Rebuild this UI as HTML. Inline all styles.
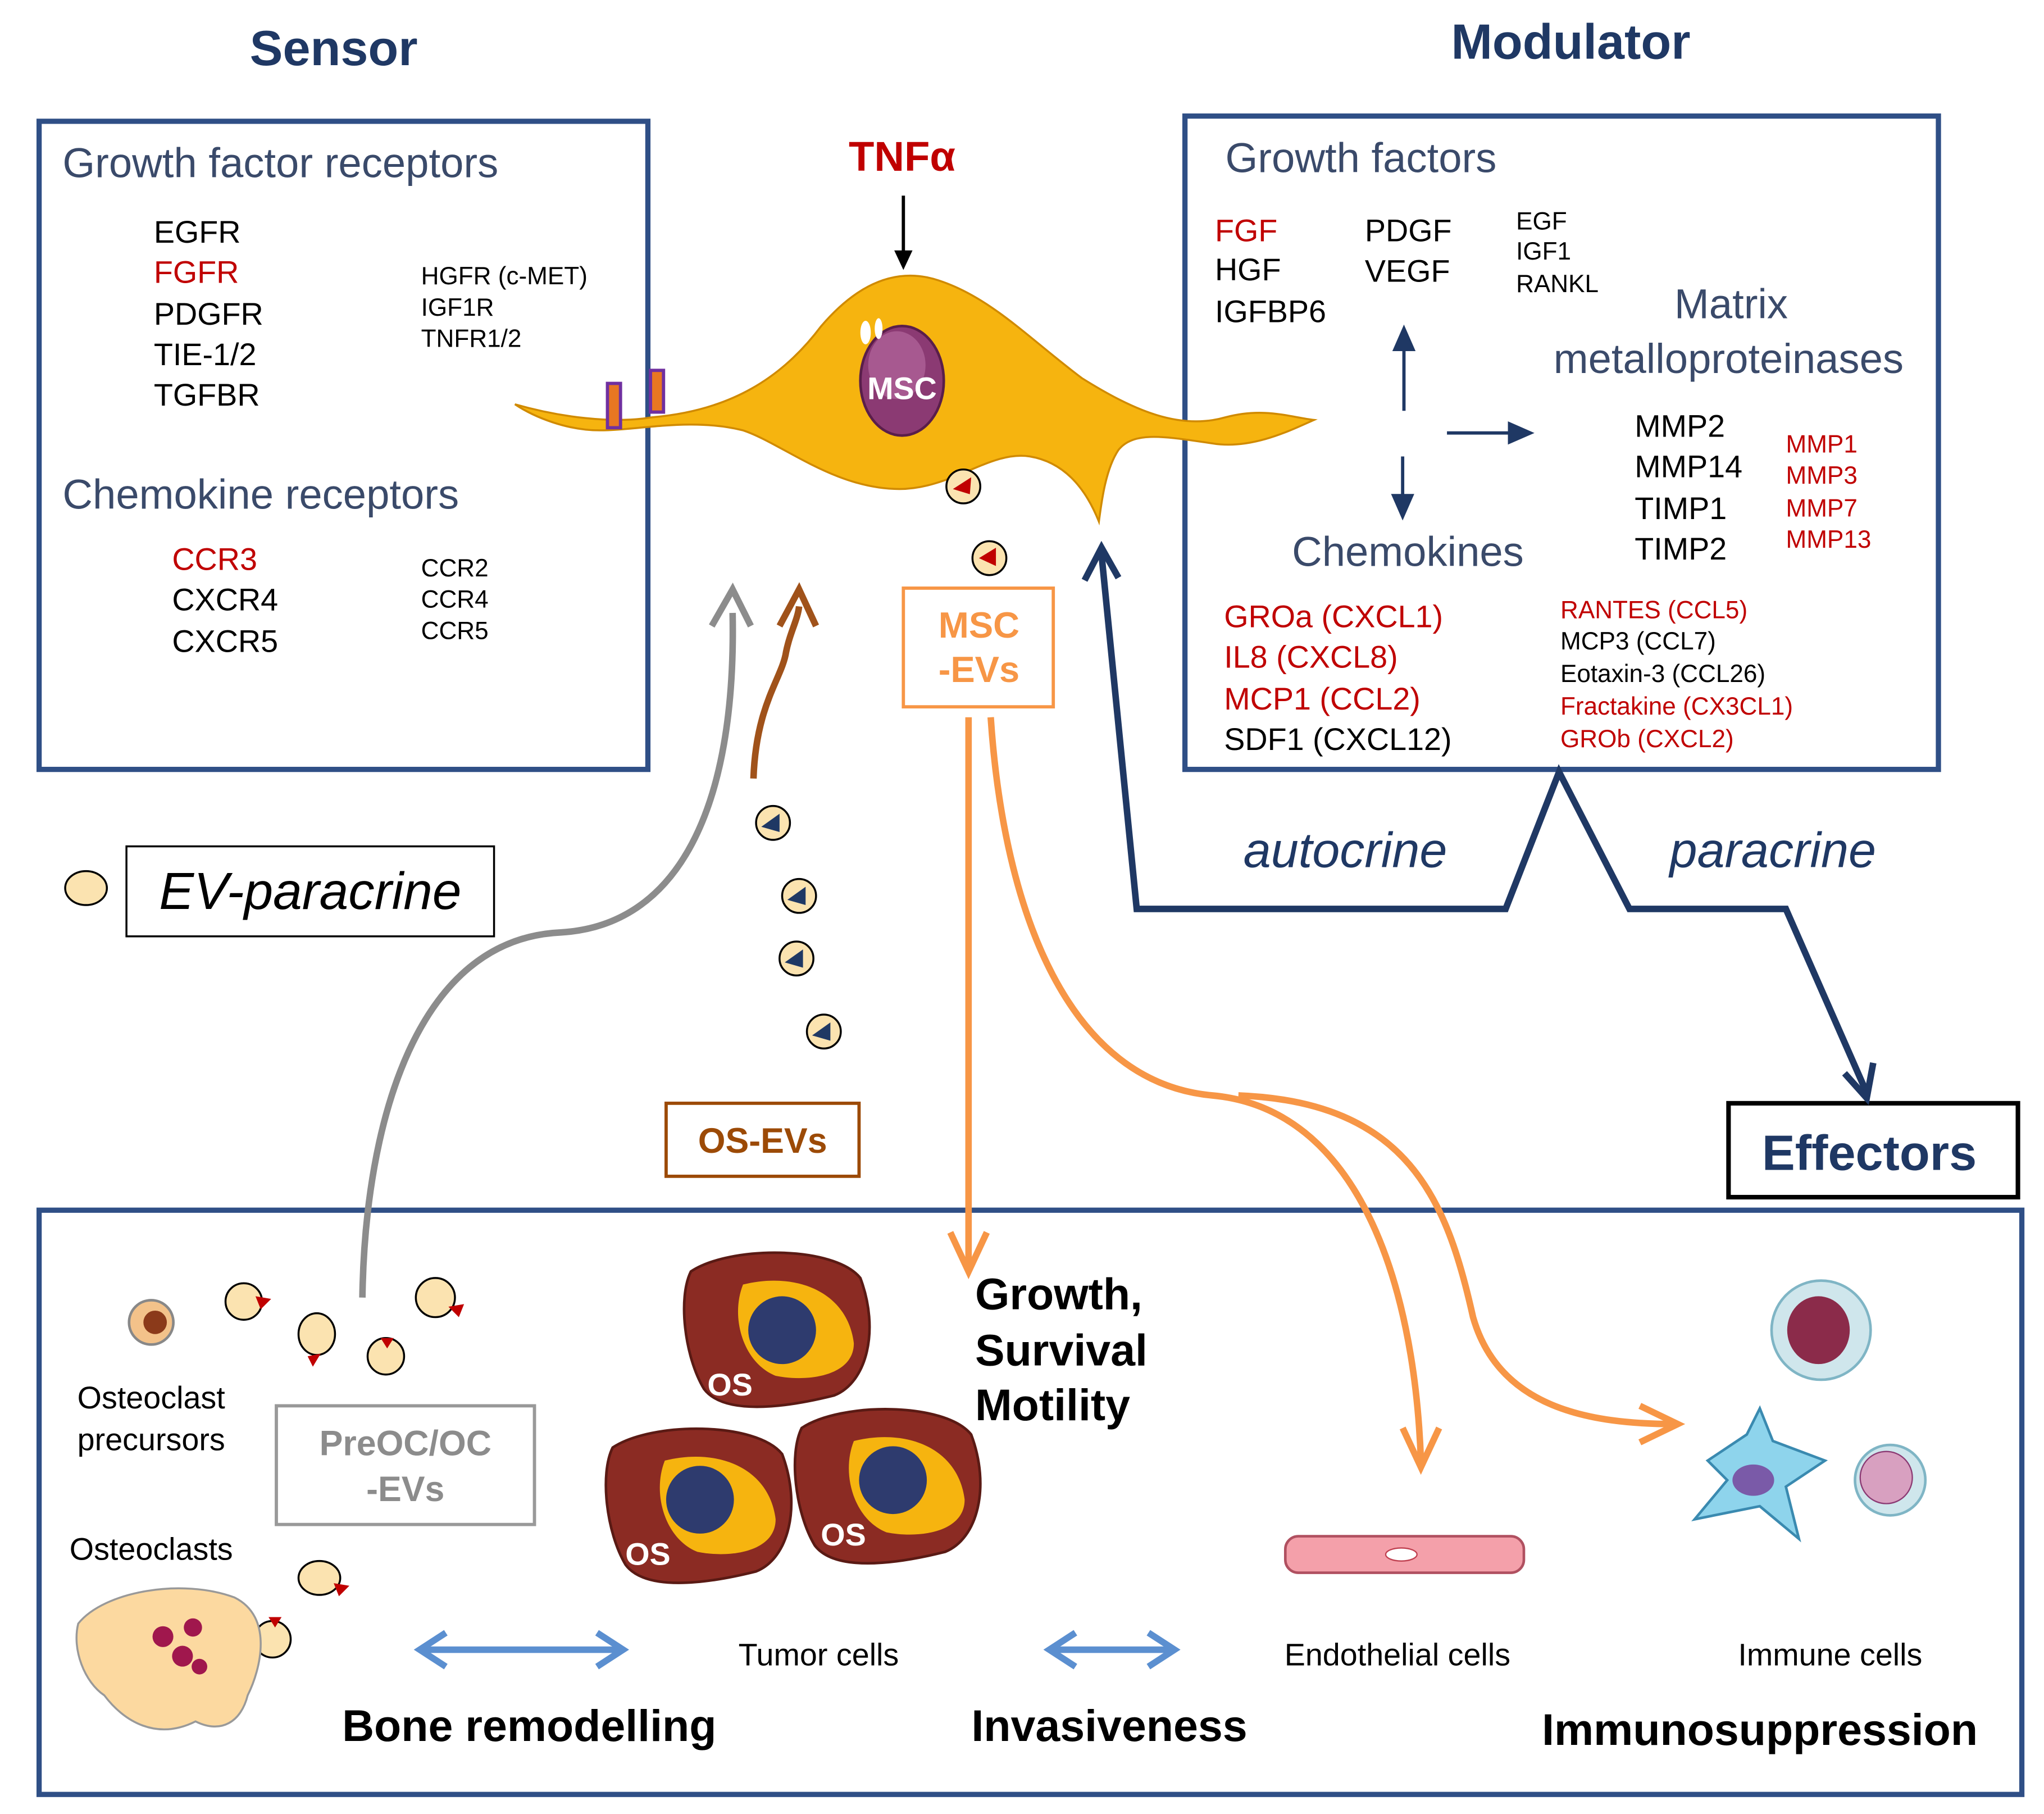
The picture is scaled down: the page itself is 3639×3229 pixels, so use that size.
<!DOCTYPE html>
<html><head><meta charset="utf-8">
<style>
html,body{margin:0;padding:0;background:#fff;}
svg{display:block;}
text{font-family:"Liberation Sans",Arial,sans-serif;}
</style></head>
<body>
<svg width="3639" height="3229" viewBox="0 0 1568 1391" preserveAspectRatio="none" xmlns="http://www.w3.org/2000/svg">
<rect width="1568" height="1391" fill="#fff"/>

<text x="256" y="50" font-size="38" font-weight="bold" fill="#1f3864" text-anchor="middle">Sensor</text>
<text x="1205" y="45" font-size="38" font-weight="bold" fill="#1f3864" text-anchor="middle">Modulator</text>

<rect x="30" y="93" width="467" height="497" fill="none" stroke="#2f4f86" stroke-width="4"/>
<rect x="909" y="89" width="578" height="501" fill="none" stroke="#2f4f86" stroke-width="4"/>
<rect x="30" y="928" width="1521" height="448" fill="none" stroke="#2f4f86" stroke-width="4"/>
<rect x="1326" y="846" width="222" height="72" fill="none" stroke="#000" stroke-width="3.5"/>
<text x="1434" y="897" font-size="38" font-weight="bold" fill="#1f3864" text-anchor="middle">Effectors</text>
<rect x="97" y="649" width="282" height="69" fill="none" stroke="#000" stroke-width="1.5"/>
<text x="238" y="697" font-size="40" font-style="italic" fill="#000" text-anchor="middle">EV-paracrine</text>
<ellipse cx="66" cy="681" rx="16" ry="13" fill="#fbe3b0" stroke="#000" stroke-width="1.5"/>

<text x="48" y="136" font-size="32" fill="#3a4a6a">Growth factor receptors</text>
<g font-size="24" fill="#000">
<text x="118" y="186">EGFR</text>
<text x="118" y="217" fill="#c00000">FGFR</text>
<text x="118" y="249">PDGFR</text>
<text x="118" y="280">TIE-1/2</text>
<text x="118" y="311">TGFBR</text>
</g>
<g font-size="19" fill="#000">
<text x="323" y="218">HGFR (c-MET)</text>
<text x="323" y="242">IGF1R</text>
<text x="323" y="266">TNFR1/2</text>
</g>
<text x="48" y="390" font-size="32" fill="#3a4a6a">Chemokine receptors</text>
<g font-size="24" fill="#000">
<text x="132" y="437" fill="#c00000">CCR3</text>
<text x="132" y="468">CXCR4</text>
<text x="132" y="500">CXCR5</text>
</g>
<g font-size="19" fill="#000">
<text x="323" y="442">CCR2</text>
<text x="323" y="466">CCR4</text>
<text x="323" y="490">CCR5</text>
</g>

<text x="940" y="132" font-size="32" fill="#3a4a6a">Growth factors</text>
<g font-size="24" fill="#000">
<text x="932" y="185" fill="#c00000">FGF</text>
<text x="932" y="215">HGF</text>
<text x="932" y="247">IGFBP6</text>
<text x="1047" y="185">PDGF</text>
<text x="1047" y="216">VEGF</text>
</g>
<g font-size="19" fill="#000">
<text x="1163" y="176">EGF</text>
<text x="1163" y="199">IGF1</text>
<text x="1163" y="224">RANKL</text>
</g>
<text x="1328" y="244" font-size="32" fill="#3a4a6a" text-anchor="middle">Matrix</text>
<text x="1326" y="286" font-size="32" fill="#3a4a6a" text-anchor="middle">metalloproteinases</text>
<g font-size="24" fill="#000">
<text x="1254" y="335">MMP2</text>
<text x="1254" y="366">MMP14</text>
<text x="1254" y="398">TIMP1</text>
<text x="1254" y="429">TIMP2</text>
</g>
<g font-size="19" fill="#c00000">
<text x="1370" y="347">MMP1</text>
<text x="1370" y="371">MMP3</text>
<text x="1370" y="396">MMP7</text>
<text x="1370" y="420">MMP13</text>
</g>
<text x="1080" y="434" font-size="32" fill="#3a4a6a" text-anchor="middle">Chemokines</text>
<g font-size="24">
<text x="939" y="481" fill="#c00000">GROa (CXCL1)</text>
<text x="939" y="512" fill="#c00000">IL8 (CXCL8)</text>
<text x="939" y="544" fill="#c00000">MCP1 (CCL2)</text>
<text x="939" y="575" fill="#000">SDF1 (CXCL12)</text>
</g>
<g font-size="19">
<text x="1197" y="474" fill="#c00000">RANTES (CCL5)</text>
<text x="1197" y="498" fill="#000">MCP3 (CCL7)</text>
<text x="1197" y="523" fill="#000">Eotaxin-3 (CCL26)</text>
<text x="1197" y="548" fill="#c00000">Fractakine (CX3CL1)</text>
<text x="1197" y="573" fill="#c00000">GROb (CXCL2)</text>
</g>
<g stroke="#1f3864" stroke-width="2.5" fill="#1f3864">
<line x1="1077" y1="315" x2="1077" y2="262"/><path d="M1070,268 L1077,252 L1084,268Z"/>
<line x1="1076" y1="350" x2="1076" y2="385"/><path d="M1069,380 L1076,396 L1083,380Z"/>
<line x1="1110" y1="332" x2="1162" y2="332"/><path d="M1158,325 L1174,332 L1158,339Z"/>
</g>

<path d="M395,310 C430,320 470,325 500,320 C560,315 600,290 630,250 C660,215 690,205 720,215 C760,228 790,260 830,290 C870,315 905,330 940,320 C970,312 990,320 1008,322 C990,330 960,345 930,340 C895,335 870,330 858,345 C848,360 845,385 843,400 C835,380 820,355 790,350 C760,345 730,375 690,375 C640,375 600,340 570,330 C530,320 490,330 460,330 C435,330 410,320 395,310Z" fill="#f6b40f" stroke="#d08a00" stroke-width="1.5"/>
<ellipse cx="692" cy="292" rx="32" ry="42" fill="#8b3a73" stroke="#5a1e4a" stroke-width="2"/>
<ellipse cx="688" cy="280" rx="22" ry="26" fill="#b3679c" opacity="0.7"/>
<ellipse cx="664" cy="255" rx="4" ry="9" fill="#fff"/>
<ellipse cx="674" cy="252" rx="3" ry="8" fill="#fff"/>
<text x="692" y="306" font-size="24" font-weight="bold" fill="#fff" text-anchor="middle">MSC</text>
<rect x="466" y="294" width="10" height="34" fill="#e87722" stroke="#7030a0" stroke-width="2.5"/>
<rect x="499" y="284" width="10" height="32" fill="#e87722" stroke="#7030a0" stroke-width="2.5"/>
<text x="692" y="131" font-size="32" font-weight="bold" fill="#c00000" text-anchor="middle">TNFα</text>
<line x1="693" y1="150" x2="693" y2="195" stroke="#000" stroke-width="2.5"/>
<path d="M686,192 L693,207 L700,192Z" fill="#000"/>

<g stroke="#000" stroke-width="1.5">
<circle cx="739" cy="373" r="13" fill="#fbe3b0"/><path d="M731,375 L745,366 L744,379Z" fill="#c00000" stroke="none"/>
<circle cx="759" cy="428" r="13" fill="#fbe3b0"/><path d="M751,428 L764,420 L764,434Z" fill="#c00000" stroke="none"/>
</g>
<rect x="693" y="451" width="115" height="91" fill="#fff" stroke="#f79646" stroke-width="2.5"/>
<text x="751" y="489" font-size="28" font-weight="bold" fill="#f79646" text-anchor="middle">MSC</text>
<text x="751" y="523" font-size="28" font-weight="bold" fill="#f79646" text-anchor="middle">-EVs</text>

<g stroke="#000" stroke-width="1.5" fill="#fbe3b0">
<circle cx="593" cy="631" r="13"/><circle cx="613" cy="687" r="13"/><circle cx="611" cy="735" r="13"/><circle cx="632" cy="791" r="13"/>
</g>
<g fill="#1f3864">
<path d="M584,634 L598,624 L598,638Z"/><path d="M604,690 L618,680 L618,694Z"/><path d="M602,738 L616,728 L616,742Z"/><path d="M623,794 L637,784 L637,798Z"/>
</g>
<rect x="511" y="846" width="148" height="56" fill="#fff" stroke="#9c4a06" stroke-width="2.5"/>
<text x="585" y="884" font-size="27" font-weight="bold" fill="#9c4a06" text-anchor="middle">OS-EVs</text>

<path d="M278,995 C280,860 320,720 430,715 C520,710 565,620 562,470" fill="none" stroke="#8c8c8c" stroke-width="5"/>
<path d="M546,480 L562,452 L576,480" fill="none" stroke="#8c8c8c" stroke-width="5"/>
<path d="M578,597 C580,540 600,520 603,500 C606,485 612,475 613,465" fill="none" stroke="#a0521a" stroke-width="5"/>
<path d="M598,480 L613,452 L626,480" fill="none" stroke="#a0521a" stroke-width="5"/>

<g fill="none" stroke="#f79646" stroke-width="5">
<line x1="743" y1="550" x2="743" y2="970"/>
<path d="M729,945 L743,975 L757,945"/>
<path d="M760,550 C770,700 820,830 930,840 C1040,850 1085,980 1090,1120"/>
<path d="M1076,1095 L1090,1125 L1104,1095"/>
<path d="M950,840 C1080,845 1110,920 1130,1010 C1150,1080 1220,1092 1285,1092"/>
<path d="M1258,1078 L1287,1092 L1258,1106"/>
</g>

<g fill="none" stroke="#1f3864" stroke-width="5">
<path d="M1432,838 L1370,697 L1250,697 L1196,592 L1155,697 L872,697 L845,425"/>
<path d="M832,445 L845,420 L858,443"/>
<path d="M1415,823 L1432,842 L1437,815"/>
</g>
<text x="1032" y="665" font-size="38" font-style="italic" fill="#1f3864" text-anchor="middle">autocrine</text>
<text x="1360" y="665" font-size="38" font-style="italic" fill="#1f3864" text-anchor="middle">paracrine</text>

<g stroke="#000" stroke-width="1.5" fill="#fbe3b0">
<circle cx="187" cy="998" r="14"/><ellipse cx="243" cy="1023" rx="14" ry="16"/><circle cx="296" cy="1040" r="14"/><circle cx="334" cy="995" r="15"/>
<ellipse cx="245" cy="1210" rx="16" ry="13"/><circle cx="209" cy="1257" r="14"/>
</g>
<g fill="#c00000">
<path d="M196,994 L208,996 L200,1004Z"/><path d="M236,1040 L246,1038 L240,1048Z"/><path d="M292,1026 L302,1026 L297,1034Z"/>
<path d="M344,1002 L356,1000 L352,1010Z"/><path d="M256,1214 L268,1216 L260,1224Z"/><path d="M206,1240 L216,1240 L211,1248Z"/>
</g>
<circle cx="116" cy="1014" r="17" fill="#f3c28a" stroke="#888" stroke-width="2"/>
<circle cx="119" cy="1014" r="9" fill="#8b3a1a"/>
<text x="116" y="1080" font-size="24" fill="#000" text-anchor="middle">Osteoclast</text>
<text x="116" y="1112" font-size="24" fill="#000" text-anchor="middle">precursors</text>
<text x="116" y="1196" font-size="24" fill="#000" text-anchor="middle">Osteoclasts</text>
<path d="M60,1245 C80,1220 140,1210 180,1225 C210,1240 200,1280 190,1300 C185,1320 170,1330 150,1320 C120,1335 95,1320 80,1300 C65,1290 55,1265 60,1245Z" fill="#fcd9a0" stroke="#999" stroke-width="1.5"/>
<g fill="#a0174d"><circle cx="125" cy="1255" r="8"/><circle cx="148" cy="1248" r="7"/><circle cx="140" cy="1270" r="8"/><circle cx="153" cy="1278" r="6"/></g>
<rect x="212" y="1078" width="198" height="91" fill="#fff" stroke="#999" stroke-width="2.5"/>
<text x="311" y="1116" font-size="27" font-weight="bold" fill="#8c8c8c" text-anchor="middle">PreOC/OC</text>
<text x="311" y="1151" font-size="27" font-weight="bold" fill="#8c8c8c" text-anchor="middle">-EVs</text>

<g>
<path d="M530,975 C560,955 640,955 660,980 C675,1020 665,1060 640,1070 C600,1080 555,1085 540,1065 C525,1040 520,995 530,975Z" fill="#8b2b23" stroke="#5a1a14" stroke-width="2"/>
<path d="M570,985 C610,975 650,990 655,1030 C655,1055 620,1060 595,1055 C570,1045 560,1010 570,985Z" fill="#f6b40f"/>
<circle cx="600" cy="1020" r="26" fill="#2e3b6e"/>
<text x="560" y="1070" font-size="24" font-weight="bold" fill="#fff" text-anchor="middle">OS</text>
<path d="M470,1110 C500,1090 580,1090 600,1115 C615,1155 605,1195 580,1205 C540,1215 495,1220 480,1200 C465,1175 460,1130 470,1110Z" fill="#8b2b23" stroke="#5a1a14" stroke-width="2"/>
<path d="M510,1120 C550,1110 590,1125 595,1165 C595,1190 560,1195 535,1190 C510,1180 500,1145 510,1120Z" fill="#f6b40f"/>
<circle cx="537" cy="1150" r="26" fill="#2e3b6e"/>
<text x="497" y="1200" font-size="24" font-weight="bold" fill="#fff" text-anchor="middle">OS</text>
<path d="M615,1095 C645,1075 725,1075 745,1100 C760,1140 750,1180 725,1190 C685,1200 640,1205 625,1185 C610,1160 605,1115 615,1095Z" fill="#8b2b23" stroke="#5a1a14" stroke-width="2"/>
<path d="M655,1105 C695,1095 735,1110 740,1150 C740,1175 705,1180 680,1175 C655,1165 645,1130 655,1105Z" fill="#f6b40f"/>
<circle cx="685" cy="1135" r="26" fill="#2e3b6e"/>
<text x="647" y="1185" font-size="24" font-weight="bold" fill="#fff" text-anchor="middle">OS</text>
</g>
<g font-size="34" font-weight="bold" fill="#000">
<text x="748" y="1004">Growth,</text>
<text x="748" y="1047">Survival</text>
<text x="748" y="1089">Motility</text>
</g>

<rect x="986" y="1178" width="183" height="28" rx="10" fill="#f4a0aa" stroke="#b05060" stroke-width="2"/>
<ellipse cx="1075" cy="1192" rx="12" ry="5" fill="#fff" stroke="#c04050"/>
<circle cx="1397" cy="1020" r="38" fill="#cfe6ec" stroke="#7fb5c5" stroke-width="2"/>
<ellipse cx="1395" cy="1020" rx="24" ry="26" fill="#8b2b4a"/>
<path d="M1310,1120 L1340,1100 L1350,1080 L1360,1105 L1400,1120 L1370,1140 L1380,1180 L1350,1155 L1300,1165 L1325,1135Z" fill="#8ed4ec" stroke="#3a8ab0" stroke-width="2"/>
<ellipse cx="1345" cy="1135" rx="16" ry="12" fill="#7a5aa8"/>
<circle cx="1450" cy="1135" r="27" fill="#cfe6ec" stroke="#7fb5c5" stroke-width="2"/>
<circle cx="1447" cy="1133" r="20" fill="#d8a0c0" stroke="#8b3a73"/>

<g stroke="#5b8fd0" stroke-width="5" fill="none">
<line x1="325" y1="1265" x2="475" y2="1265"/><path d="M342,1252 L322,1265 L342,1278"/><path d="M458,1252 L478,1265 L458,1278"/>
<line x1="808" y1="1265" x2="898" y2="1265"/><path d="M825,1252 L805,1265 L825,1278"/><path d="M881,1252 L901,1265 L881,1278"/>
</g>
<g font-size="24" fill="#000" text-anchor="middle">
<text x="628" y="1277">Tumor cells</text>
<text x="1072" y="1277">Endothelial cells</text>
<text x="1404" y="1277">Immune cells</text>
</g>
<g font-size="34" font-weight="bold" fill="#000" text-anchor="middle">
<text x="406" y="1335">Bone remodelling</text>
<text x="851" y="1335">Invasiveness</text>
<text x="1350" y="1338">Immunosuppression</text>
</g>
</svg>
</body></html>
